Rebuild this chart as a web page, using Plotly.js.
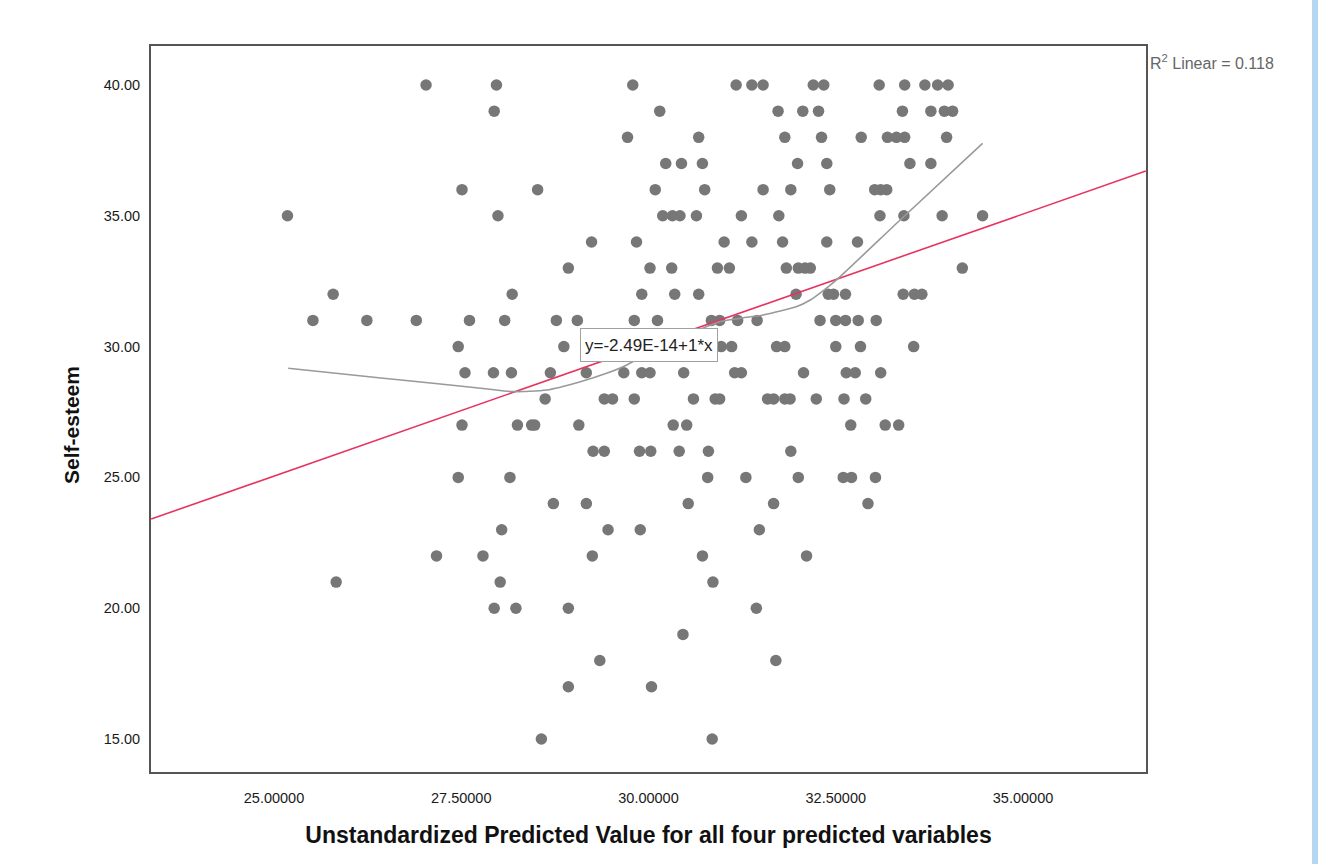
<!DOCTYPE html>
<html>
<head>
<meta charset="utf-8">
<script src="https://cdn.plot.ly/plotly-3.0.1.min.js"></script>
<style>
  html, body { margin: 0; padding: 0; background: #ffffff; }
  #chart { width: 1318px; height: 864px; }
  #sidebar { position: fixed; top: 0; right: 0; width: 6px; height: 864px; background: #b6d7f2; }
</style>
</head>
<body>
<div id="chart"></div>
<div id="sidebar"></div>
<script>
// Self-esteem score levels (y) and the predicted values (x) of the cases at each level
const selfEsteemLevels = [40, 39, 38, 37, 36, 35, 34, 33, 32, 31, 30, 29, 28, 27, 26, 25, 24, 23, 22, 21, 20, 19, 18, 17, 15];
const predictedByLevel = [
  [27.03, 27.97, 29.79, 31.17, 31.38, 31.53, 32.20, 32.34, 33.08, 33.42, 33.69, 33.86, 34.00],
  [27.94, 30.15, 31.73, 32.06, 32.27, 33.39, 33.77, 33.95, 34.06],
  [29.72, 30.67, 31.82, 32.31, 32.84, 33.19, 33.31, 33.42, 33.98],
  [30.23, 30.44, 30.72, 31.99, 32.38, 33.49, 33.77],
  [27.51, 28.52, 30.09, 30.75, 31.53, 31.90, 32.42, 33.02, 33.10, 33.18],
  [25.18, 27.99, 30.19, 30.32, 30.42, 30.64, 31.24, 31.74, 33.09, 33.41, 33.92, 34.46],
  [29.24, 29.84, 31.01, 31.38, 31.79, 32.38, 32.79],
  [28.93, 30.02, 30.31, 30.92, 31.08, 31.84, 32.00, 32.09, 32.16, 34.19],
  [25.79, 28.18, 29.91, 30.35, 30.67, 31.97, 32.40, 32.47, 32.63, 33.40, 33.55, 33.65],
  [25.52, 26.24, 26.90, 27.61, 28.08, 28.77, 29.05, 29.81, 30.12, 30.84, 30.95, 31.19, 31.45, 32.29, 32.50, 32.63, 32.80, 33.04],
  [27.46, 28.87, 30.97, 31.11, 31.71, 31.82, 32.50, 32.83, 33.54],
  [27.55, 27.93, 28.17, 28.69, 29.17, 29.67, 29.91, 30.02, 30.47, 31.15, 31.24, 32.07, 32.64, 32.76, 33.10],
  [28.62, 29.41, 29.52, 29.81, 30.60, 30.89, 30.95, 31.59, 31.67, 31.82, 31.89, 32.24, 32.61, 32.90],
  [27.51, 28.25, 28.44, 28.48, 29.07, 30.33, 30.51, 32.70, 33.16, 33.34],
  [29.26, 29.41, 29.88, 30.03, 30.41, 30.80, 31.90],
  [27.46, 28.15, 30.79, 31.30, 32.00, 32.60, 32.71, 33.03],
  [28.73, 29.17, 30.53, 31.67, 32.93],
  [28.04, 29.46, 29.89, 31.48],
  [27.17, 27.79, 29.25, 30.72, 32.11],
  [25.83, 28.02, 30.86],
  [27.94, 28.23, 28.93, 31.44],
  [30.46],
  [29.35, 31.70],
  [28.93, 30.04],
  [28.57, 30.85]
];

// Linear fit line (y = -2.49E-14 + 1*x), end points
const fitX = [23.36, 36.64];
const fitY = [23.41, 36.71];

// Loess-type smoother (grey curve)
const smoothX = [25.19, 26.46, 27.22, 27.88, 28.19, 28.64, 29.09, 29.44, 29.71, 30.02, 30.42, 30.95, 31.22, 31.53, 31.98, 32.16, 32.29, 32.51, 33.36, 34.46];
const smoothY = [29.17, 28.79, 28.57, 28.37, 28.28, 28.34, 28.66, 28.98, 29.30, 29.80, 30.33, 30.95, 31.08, 31.21, 31.53, 31.78, 32.04, 32.55, 34.84, 37.77];

// Axis ticks
const xTicks = [25, 27.5, 30, 32.5, 35];
const yTicks = [15, 20, 25, 30, 35, 40];

const xTitle = 'Unstandardized Predicted Value for all four predicted variables';
const yTitle = 'Self-esteem';
const eqLabel = 'y=-2.49E-14+1*x';
const r2Label = 'R<sup>2</sup> Linear = 0.118';

const ptsX = [], ptsY = [];
selfEsteemLevels.forEach((lv, i) => {
  predictedByLevel[i].forEach(v => { ptsX.push(v); ptsY.push(lv); });
});

const FONT = 'Liberation Sans, Arial, Helvetica, sans-serif';

const traces = [
  {
    type: 'scatter', mode: 'markers', x: ptsX, y: ptsY,
    marker: { size: 11.5, color: '#777777' },
    hoverinfo: 'x+y', showlegend: false
  },
  {
    type: 'scatter', mode: 'lines', x: fitX, y: fitY,
    line: { color: '#e8335e', width: 1.6 },
    hoverinfo: 'skip', showlegend: false
  },
  {
    type: 'scatter', mode: 'lines', x: smoothX, y: smoothY,
    line: { color: '#999999', width: 1.6, shape: 'spline', smoothing: 0.6 },
    hoverinfo: 'skip', showlegend: false
  }
];

const layout = {
  width: 1318, height: 864,
  margin: { l: 151, r: 172, t: 46, b: 92 },
  paper_bgcolor: '#ffffff', plot_bgcolor: '#ffffff',
  font: { family: FONT, color: '#222222', size: 15 },
  xaxis: {
    range: [23.358, 36.642],
    tickvals: xTicks, tickformat: '.5f',
    showgrid: false, zeroline: false, ticks: '',
    showline: true, mirror: true, linecolor: '#555555', linewidth: 2,
    ticklabelstandoff: 12,
    tickfont: { family: FONT, size: 14.5, color: '#1a1a1a' },
    title: { text: '<b>' + xTitle + '</b>', font: { family: FONT, size: 23, color: '#111111' }, standoff: 21 },
    automargin: false
  },
  yaxis: {
    range: [13.74, 41.49],
    tickvals: yTicks, tickformat: '.2f',
    showgrid: false, zeroline: false, ticks: '',
    showline: true, mirror: true, linecolor: '#555555', linewidth: 2,
    ticklabelstandoff: 6,
    tickfont: { family: FONT, size: 14.5, color: '#1a1a1a' },
    automargin: false
  },
  annotations: [
    {
      x: -0.0794, y: 0.478, xref: 'paper', yref: 'paper', text: '<b>' + yTitle + '</b>',
      showarrow: false, textangle: -90, xanchor: 'center', yanchor: 'middle',
      font: { family: FONT, size: 21, color: '#111111' }
    },
    {
      x: 30.0, y: 30.05, xref: 'x', yref: 'y', text: eqLabel, showarrow: false,
      xanchor: 'center', yanchor: 'middle',
      font: { family: FONT, size: 17, color: '#222222' },
      bgcolor: '#ffffff', bordercolor: '#a0a0a0', borderwidth: 1, borderpad: 1,
      width: 134, height: 30
    },
    {
      x: 1.002, y: 0.978, xref: 'paper', yref: 'paper', text: r2Label, showarrow: false,
      xanchor: 'left', yanchor: 'middle',
      font: { family: FONT, size: 16, color: '#666666' }
    }
  ]
};

Plotly.newPlot('chart', traces, layout, { displayModeBar: false, staticPlot: true });
</script>
</body>
</html>
